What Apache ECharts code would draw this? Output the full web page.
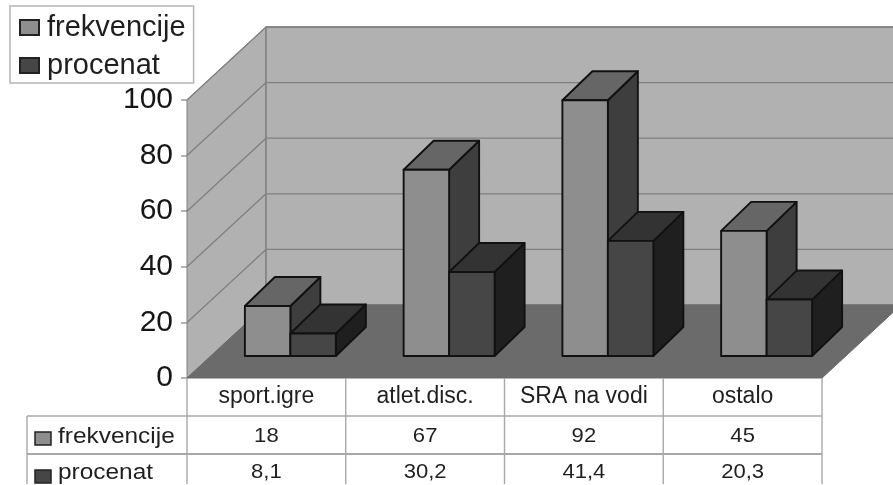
<!DOCTYPE html>
<html><head><meta charset="utf-8">
<style>html,body{margin:0;padding:0;background:#fff}#c{width:893px;height:485px}</style>
<script src="https://cdn.jsdelivr.net/npm/echarts@6/dist/echarts.min.js"></script>
</head><body><div id="c"></div>
<script>
const categories = ['sport.igre', 'atlet.disc.', 'SRA na vodi', 'ostalo'];
const frekvencije = [18, 67, 92, 45];
const procenat = [8.1, 30.2, 41.4, 20.3];
const frekvencijeText = ['18', '67', '92', '45'];
const procenatText = ['8,1', '30,2', '41,4', '20,3'];
const yTicks = [0, 20, 40, 60, 80, 100];
const seriesNames = ['frekvencije', 'procenat'];

const FONT = '"Liberation Sans", Arial, sans-serif';
const WALL = [79, -73], BAR_DEPTH = [30, -29], BAR_OFF = [24, -22];
const BAR_FRAC = 0.2865;
const LINE = '#808080', EDGE = '#111111', TBL = '#a8a8a8', TXT = '#1f1f1f';
const palette = [
  {front:'#8e8e8e', top:'#666666', side:'#3e3e3e'},
  {front:'#464646', top:'#333333', side:'#1f1f1f'}
];
const ROW_Y = [378, 416, 454, 484];
const chart = echarts.init(document.getElementById('c'), null, {renderer:'canvas'});

function poly(points, fill, stroke, lw){
  return {type:'polygon', shape:{points}, style:{fill, stroke, lineWidth:lw, lineJoin:'round'}};
}
function seg(a, b, stroke, lw){
  return {type:'line', shape:{x1:a[0],y1:a[1],x2:b[0],y2:b[1]}, style:{stroke, lineWidth:lw}};
}
function wallsItem(params, api){
  const ax0 = params.coordSys.x, ax1 = params.coordSys.x + params.coordSys.width;
  const y0 = api.coord([0, 0])[1], y1 = api.coord([0, 100])[1];
  const d = WALL, ch = [];
  ch.push(poly([[ax0,y0],[ax0,y1],[ax0+d[0],y1+d[1]],[ax0+d[0],y0+d[1]]], '#b1b1b1', LINE, 1));
  ch.push(poly([[ax0+d[0],y1+d[1]],[ax1+d[0],y1+d[1]],[ax1+d[0],y0+d[1]],[ax0+d[0],y0+d[1]]], '#b1b1b1', LINE, 1.5));
  yTicks.slice(1).forEach(v=>{
    const y = api.coord([0, v])[1];
    ch.push(seg([ax0,y],[ax0+d[0],y+d[1]],LINE,1.3));
    ch.push(seg([ax0+d[0],y+d[1]],[ax1+d[0],y+d[1]],LINE,1.3));
  });
  ch.push(poly([[ax0,y0],[ax1,y0],[ax1+d[0],y0+d[1]],[ax0+d[0],y0+d[1]]], '#6b6b6b', '#6b6b6b', 1));
  return {type:'group', children:ch};
}
function barItem(s){
  return function(params, api){
    const c = api.coord([api.value(0), 0]), band = api.size([1,0])[0];
    const w = band*BAR_FRAC;
    const top = api.coord([api.value(0), api.value(1)])[1];
    const xl = c[0] + BAR_OFF[0] + (s-1)*w, xr = xl + w;
    const yb = c[1] + BAR_OFF[1], yt = top + BAR_OFF[1];
    const d = BAR_DEPTH, p = palette[s];
    return {type:'group', children:[
      poly([[xr,yb],[xr,yt],[xr+d[0],yt+d[1]],[xr+d[0],yb+d[1]]], p.side, EDGE, 1.9),
      poly([[xl,yt],[xr,yt],[xr+d[0],yt+d[1]],[xl+d[0],yt+d[1]]], p.top, EDGE, 1.9),
      poly([[xl,yb],[xr,yb],[xr,yt],[xl,yt]], p.front, EDGE, 1.9)
    ]};
  };
}
function tableItem(params, api){
  const gx0 = params.coordSys.x, band = api.size([1,0])[0], ch = [];
  const left = 27;
  for(let i=0;i<=categories.length;i++){
    const x = gx0 + i*band;
    ch.push(seg([x,ROW_Y[0]],[x,ROW_Y[3]],TBL,1.4));
  }
  ch.push(seg([left,ROW_Y[1]],[left,ROW_Y[3]],TBL,1.4));
  ch.push(seg([left,ROW_Y[1]],[gx0+categories.length*band,ROW_Y[1]],TBL,1.4));
  ch.push(seg([left,ROW_Y[2]],[gx0+categories.length*band,ROW_Y[2]],TBL,1.8));
  const rows = [frekvencijeText, procenatText];
  rows.forEach((r,ri)=>{
    const cy = (ROW_Y[ri+1]+ROW_Y[ri+2])/2 + (ri?2:0);
    ch.push({type:'rect', shape:{x:35,y:cy+(ri?-1:-3),width:16,height:13}, style:{fill:palette[ri].front,stroke:'#222',lineWidth:1.5}});
    ch.push({type:'text', x:58, y:cy+2, scaleX:1.11, style:{text:seriesNames[ri],font:'22px '+FONT,fill:TXT,textAlign:'left',textVerticalAlign:'middle'}});
    r.forEach((t,i)=>{
      ch.push({type:'text', x:gx0+(i+0.5)*band, y:cy+1, scaleX:1.05, style:{text:t,font:'21px '+FONT,fill:TXT,textAlign:'center',textVerticalAlign:'middle'}});
    });
  });
  return {type:'group', children:ch};
}

chart.setOption({
  animation:false,
  backgroundColor:'#fff',
  legend:{
    data:seriesNames, orient:'vertical', left:10, top:6,
    padding:[7,8,3,9], itemGap:9, itemWidth:19, itemHeight:15,
    backgroundColor:'#fff', borderColor:'#b5b5b5', borderWidth:1.5, borderRadius:0,
    icon:'rect', textStyle:{fontFamily:FONT, fontSize:29, color:TXT, padding:[0,0,0,3]},
    selectedMode:false
  },
  grid:{left:187, right:71, top:100, bottom:107, containLabel:false},
  xAxis:{type:'category', data:categories, boundaryGap:true,
    axisLine:{show:false}, axisTick:{show:false},
    axisLabel:{fontFamily:FONT, fontSize:23, color:TXT, margin:7, interval:0}},
  yAxis:{type:'value', min:0, max:100, interval:20,
    axisLine:{show:false},
    axisTick:{show:true, length:6, lineStyle:{color:'#999', width:1.5}},
    axisLabel:{fontFamily:FONT, fontSize:30, color:'#161616', margin:14},
    splitLine:{show:false}},
  series:[
    {type:'custom', name:'walls', silent:true, clip:false, z:1, renderItem:wallsItem, data:[[0,0]], encode:{x:0,y:1}},
    {type:'custom', name:seriesNames[0], clip:false, z:3, renderItem:barItem(0),
      itemStyle:{color:palette[0].front, borderColor:'#222', borderWidth:1.6},
      data:frekvencije.map((v,i)=>[i,v]), encode:{x:0,y:1}},
    {type:'custom', name:seriesNames[1], clip:false, z:4, renderItem:barItem(1),
      itemStyle:{color:palette[1].front, borderColor:'#222', borderWidth:1.6},
      data:procenat.map((v,i)=>[i,v]), encode:{x:0,y:1}},
    {type:'custom', name:'table', silent:true, clip:false, z:2, renderItem:tableItem, data:[[0,0]], encode:{x:0,y:1}}
  ]
});
</script></body></html>
